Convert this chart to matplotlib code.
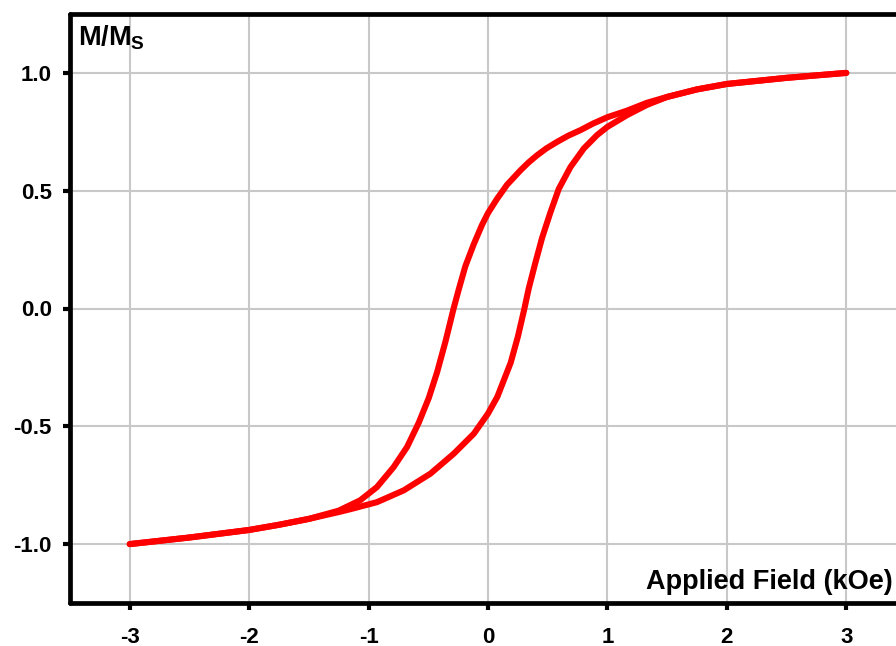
import matplotlib
matplotlib.use('Agg')
import matplotlib.pyplot as plt

plt.rcParams['font.family'] = ['Liberation Sans', 'DejaVu Sans']
plt.rcParams['font.weight'] = 'bold'
plt.rcParams['axes.unicode_minus'] = False
plt.rcParams['mathtext.fontset'] = 'custom'
plt.rcParams['mathtext.rm'] = 'Liberation Sans:bold'
plt.rcParams['mathtext.bf'] = 'Liberation Sans:bold'

# descending branch, +3 kOe -> -3 kOe
h_down = [3.0, 2.5, 2.0, 1.75, 1.5, 1.33, 1.165, 1.0, 0.88, 0.774, 0.67,
          0.578, 0.49, 0.41, 0.34, 0.271, 0.159, 0.075, 0.0, -0.05, -0.12,
          -0.19, -0.246, -0.288, -0.356, -0.426, -0.496, -0.58, -0.678, -0.79,
          -0.93, -1.07, -1.25, -1.5, -1.75, -2.0, -2.5, -3.0]
m_down = [1.0, 0.979, 0.953, 0.93, 0.898, 0.873, 0.840, 0.812, 0.785, 0.757,
          0.733, 0.707, 0.68, 0.65, 0.62, 0.586, 0.525, 0.465, 0.405, 0.355,
          0.272, 0.179, 0.079, 0.0, -0.14, -0.27, -0.38, -0.485, -0.588,
          -0.673, -0.758, -0.814, -0.858, -0.893, -0.918, -0.94, -0.972, -1.0]

# ascending branch, -3 kOe -> +3 kOe
h_up = [-3.0, -2.5, -2.0, -1.75, -1.5, -1.25, -1.154, -0.93, -0.706, -0.482,
        -0.286, -0.118, 0.0, 0.078, 0.19, 0.25, 0.305, 0.341, 0.397, 0.453,
        0.522, 0.592, 0.69, 0.802, 0.913, 1.0, 1.165, 1.33, 1.5, 1.75, 2.0,
        2.5, 3.0]
m_up = [-1.0, -0.972, -0.94, -0.918, -0.893, -0.864, -0.852, -0.822, -0.772,
        -0.701, -0.616, -0.531, -0.446, -0.375, -0.23, -0.12, 0.0, 0.085,
        0.195, 0.30, 0.407, 0.507, 0.60, 0.679, 0.736, 0.771, 0.821, 0.864,
        0.898, 0.93, 0.953, 0.979, 1.0]

x_ticks = [-3, -2, -1, 0, 1, 2, 3]
y_ticks = [-1.0, -0.5, 0.0, 0.5, 1.0]

W, H = 896, 646
fig = plt.figure(figsize=(W / 100, H / 100), dpi=100)
ax = fig.add_axes([70 / W, 43 / H, 836 / W, 589 / H])

for hx, my in ((h_down, m_down), (h_up, m_up)):
    ax.plot(hx, my, color='#ff0000', lw=4.4, solid_capstyle='round',
            solid_joinstyle='round', zorder=3)

ax.set_xlim(-3.5, 3.5)
ax.set_ylim(-1.25, 1.25)
ax.set_xticks(x_ticks)
ax.set_xticklabels([str(t) for t in x_ticks])
ax.set_yticks(y_ticks)
ax.set_yticklabels([f'{t:.1f}' for t in y_ticks])
ax.grid(True, color='#c8c8c8', lw=1.5, zorder=0)
ax.set_axisbelow(True)

for side in ('left', 'bottom', 'top'):
    ax.spines[side].set_linewidth(3.4)
    ax.spines[side].set_capstyle('round')
ax.spines['right'].set_visible(False)

ax.tick_params(axis='both', direction='out', length=5, width=3,
               labelsize=16, colors='black')
ax.tick_params(axis='x', pad=12)
ax.tick_params(axis='y', pad=8)
for lbl in ax.get_xticklabels() + ax.get_yticklabels():
    lbl.set_fontweight('bold')

ax.text(-3.434, 1.115, r'$\mathbf{M/M_S}$', fontsize=19.5, ha='left',
        va='baseline')
ax.text(3.39, -1.19, 'Applied Field (kOe)', fontsize=19.5, fontweight='bold',
        ha='right', va='baseline')

fig.savefig('out.png', dpi=100)
